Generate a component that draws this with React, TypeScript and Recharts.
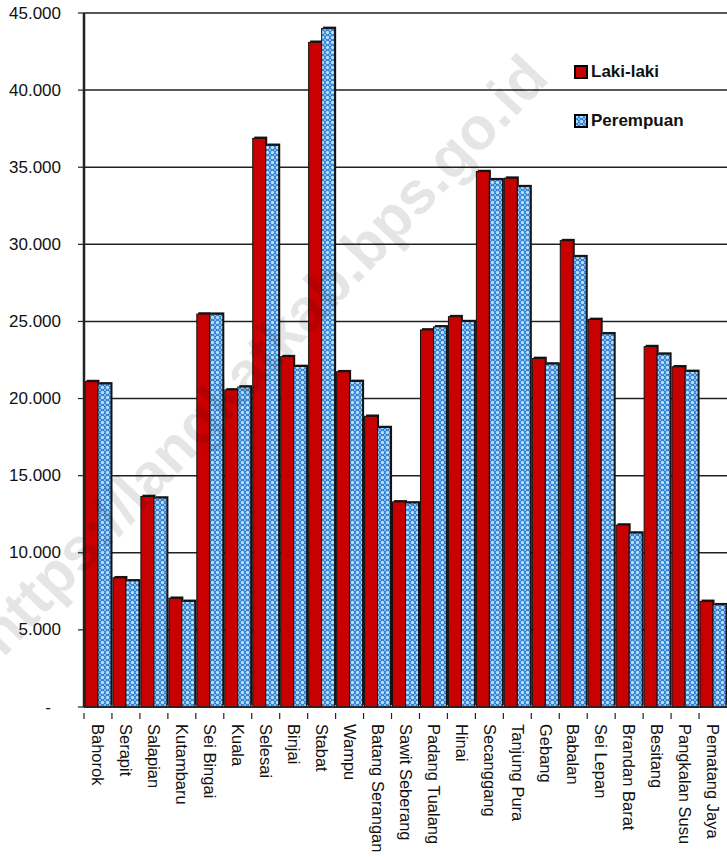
import React from "react";
import { BarChart, Bar, XAxis, YAxis, CartesianGrid } from "recharts";

const categories = [
  "Bahorok", "Serapit", "Salapian", "Kutambaru", "Sei Bingai", "Kuala", "Selesai",
  "Binjai", "Stabat", "Wampu", "Batang Serangan", "Sawit Seberang", "Padang Tualang",
  "Hinai", "Secanggang", "Tanjung Pura", "Gebang", "Babalan", "Sei Lepan",
  "Brandan Barat", "Besitang", "Pangkalan Susu", "Pematang Jaya",
];
const lakiLaki = [
  21100, 8380, 13650, 7050, 25480, 20560, 36870, 22720, 43100, 21740, 18850, 13300,
  24450, 25310, 34720, 34290, 22600, 30240, 25130, 11800, 23370, 22060, 6850,
];
const perempuan = [
  20950, 8180, 13550, 6850, 25470, 20750, 36420, 22080, 44000, 21110, 18120, 13230,
  24650, 24990, 34190, 33740, 22240, 29200, 24200, 11280, 22880, 21760, 6630,
];
const yTicks = [0, 5000, 10000, 15000, 20000, 25000, 30000, 35000, 40000, 45000];
const seriesNames = ["Laki-laki", "Perempuan"];

const data = categories.map((name, i) => ({
  name,
  laki: lakiLaki[i],
  perempuan: perempuan[i],
}));

const FONT = "'Liberation Sans', Arial, sans-serif";
const RED = "#c80000";
const BAND = (727 - 84) / categories.length;

const fmt = (v: number) =>
  v === 0 ? "-" : `${Math.floor(v / 1000)}.${String(v % 1000).padStart(3, "0")}`;

const YTick = (props: any) => {
  const { x, y, payload } = props;
  if (payload.value === 0) {
    return (
      <text x={x - 13} y={y} textAnchor="middle" dominantBaseline="central"
        fontFamily={FONT} fontSize={17} fill="#111">-</text>
    );
  }
  return (
    <text x={x} y={y} textAnchor="end" dominantBaseline="central"
      fontFamily={FONT} fontSize={17} fill="#111">{fmt(payload.value)}</text>
  );
};

const XTick = (props: any) => {
  const { x, y, payload } = props;
  const left = x - BAND / 2;
  const axisY = y - 2;
  return (
    <g>
      <line x1={left} y1={axisY} x2={left} y2={axisY + 6} stroke="#222" strokeWidth={1.2} />
      <text
        transform={`translate(${x},${axisY + 11}) rotate(90)`}
        textAnchor="start"
        dy="0.35em"
        fontFamily={FONT}
        fontSize={16.5}
        fill="#111"
      >
        {payload.value}
      </text>
    </g>
  );
};

const BarShape = (props: any) => {
  const { x, y, width, height, fill } = props;
  if (!height || height <= 0) return null;
  return (
    <g>
      <rect x={x + 1.5} y={y - 1.8} width={width} height={height} fill="#151515" />
      <rect x={x} y={y} width={width} height={height} fill={fill} stroke="#111" strokeWidth={1} />
    </g>
  );
};

const LegendBox = () => (
  <div style={{ position: "absolute", top: 60, left: 574, fontFamily: FONT, fontSize: 17, fontWeight: "bold", color: "#111" }}>
    <div style={{ display: "flex", alignItems: "center", height: 24 }}>
      <svg width={14} height={14} style={{ marginRight: 3 }}>
        <rect x={1} y={1} width={12} height={12} fill={RED} stroke="#000" strokeWidth={2} />
      </svg>
      <span>{seriesNames[0]}</span>
    </div>
    <div style={{ display: "flex", alignItems: "center", height: 24, marginTop: 25 }}>
      <svg width={14} height={14} style={{ marginRight: 3 }}>
        <rect x={1} y={1} width={12} height={12} fill="url(#bluePat)" stroke="#000" strokeWidth={2} />
      </svg>
      <span>{seriesNames[1]}</span>
    </div>
  </div>
);

export default function App() {
  return (
    <div style={{ position: "absolute", left: 0, top: 0, width: 727, height: 857, background: "#fff", overflow: "hidden" }}>
      <svg width={0} height={0} style={{ position: "absolute" }}>
        <defs>
          <pattern id="bluePat" width={5} height={5} patternUnits="userSpaceOnUse">
            <rect width={5} height={5} fill="#2f80d4" />
            <circle cx={2.5} cy={2.5} r={1.7} fill="#b9defc" />
            <circle cx={0} cy={0} r={1.0} fill="#9fd0fa" />
            <circle cx={5} cy={0} r={1.0} fill="#9fd0fa" />
            <circle cx={0} cy={5} r={1.0} fill="#9fd0fa" />
            <circle cx={5} cy={5} r={1.0} fill="#9fd0fa" />
          </pattern>
        </defs>
      </svg>
      <BarChart
        width={727}
        height={857}
        data={data}
        margin={{ top: 13, right: 0, left: 0, bottom: 0 }}
        barCategoryGap={1}
        barGap={0}
      >
        <CartesianGrid vertical={false} stroke="#222" strokeWidth={1.5} />
        <XAxis
          dataKey="name"
          interval={0}
          height={150}
          tickLine={false}
          axisLine={{ stroke: "#222", strokeWidth: 1.5 }}
          tick={<XTick />}
        />
        <YAxis
          width={84}
          domain={[0, 45000]}
          ticks={yTicks}
          interval={0}
          tickSize={6}
          tickMargin={17}
          tickLine={{ stroke: "#222", strokeWidth: 1.2 }}
          axisLine={{ stroke: "#222", strokeWidth: 2.5 }}
          tick={<YTick />}
        />
        <Bar dataKey="laki" name={seriesNames[0]} fill={RED} shape={<BarShape />} isAnimationActive={false} />
        <Bar dataKey="perempuan" name={seriesNames[1]} fill="url(#bluePat)" shape={<BarShape />} isAnimationActive={false} />
      </BarChart>
      <LegendBox />
      <svg width={727} height={857} style={{ position: "absolute", left: 0, top: 0, pointerEvents: "none" }}>
        <text
          x={262}
          y={355}
          transform="rotate(-46.6 262 355)"
          textAnchor="middle"
          dominantBaseline="central"
          fontFamily={FONT}
          fontWeight="bold"
          fontSize={60}
          fill="#000"
          fillOpacity={0.1}
        >
          https://langkatkab.bps.go.id
        </text>
      </svg>
    </div>
  );
}
